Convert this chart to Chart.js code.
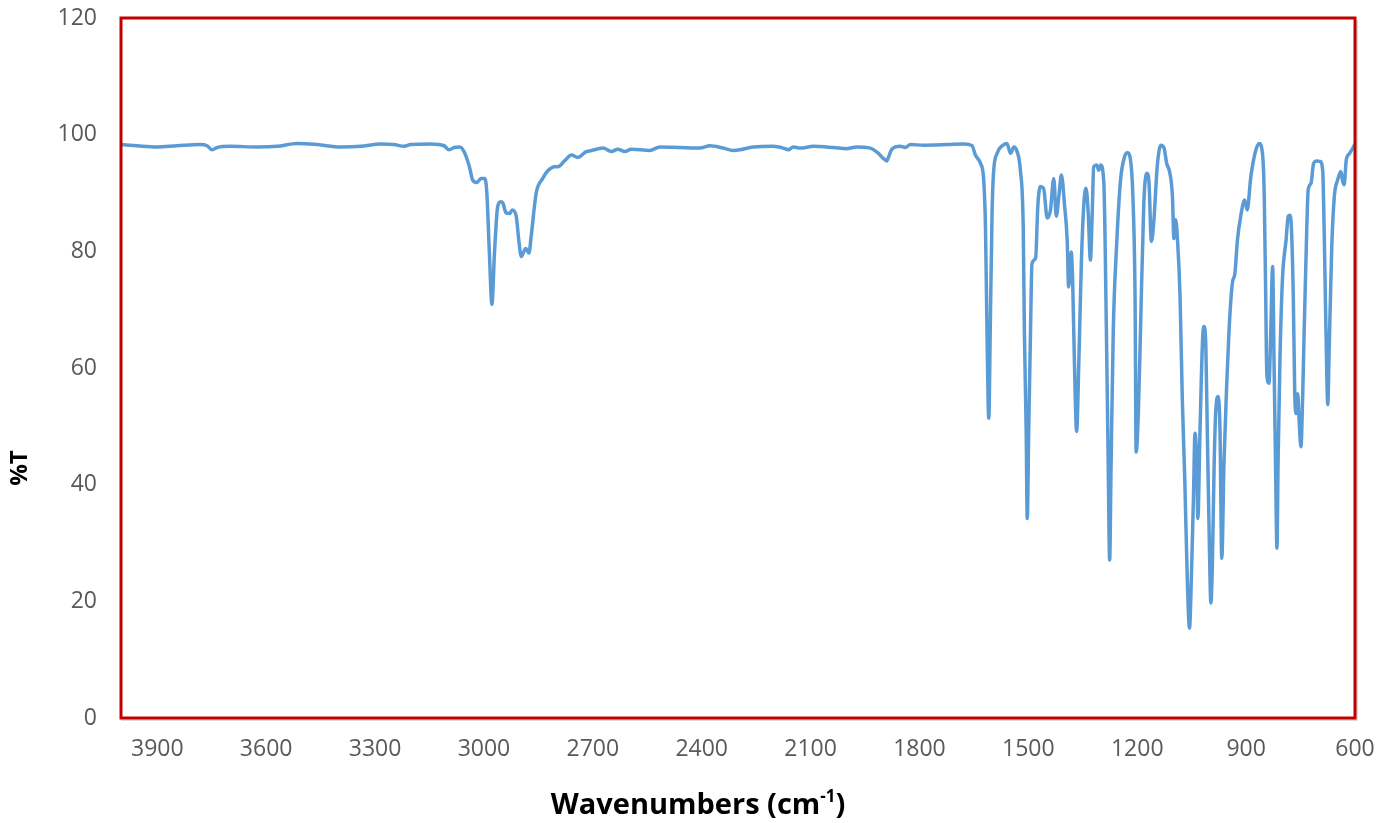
<!DOCTYPE html>
<html>
<head>
<meta charset="utf-8">
<script src="https://cdn.jsdelivr.net/npm/chart.js@4.4.1/dist/chart.umd.min.js"></script>
<style>
  html, body { margin: 0; padding: 0; background: #fff; }
  #wrap { width: 1378px; height: 823px; }
</style>
</head>
<body>
<div id="wrap"><canvas id="ir" width="1378" height="823"></canvas></div>
<script>
// IR spectrum, %T vs wavenumber
const wavenumbers = [
  4000, 3956, 3901, 3846, 3781, 3763, 3749, 3735, 3699, 3625, 3570, 3515, 3459, 3395, 3340, 3285,
  3248, 3220, 3202, 3147, 3110, 3096, 3082, 3067, 3054, 3040, 3031, 3020, 3008, 2998, 2992, 2985,
  2978, 2971, 2962, 2954, 2948, 2939, 2929, 2922, 2911, 2904, 2897, 2885, 2876, 2870, 2856, 2838,
  2824, 2805, 2796, 2778, 2759, 2741, 2718, 2709, 2672, 2649, 2631, 2612, 2594, 2543, 2515, 2460,
  2405, 2377, 2341, 2313, 2295, 2258, 2203, 2175, 2161, 2148, 2129, 2092, 2037, 2000, 1973, 1936,
  1913, 1899, 1890, 1885, 1876, 1853, 1839, 1825, 1789, 1724, 1678, 1655, 1646, 1632, 1623, 1618,
  1614, 1609, 1605, 1600, 1596, 1586, 1572, 1559, 1549, 1540, 1531, 1522, 1514, 1511, 1506, 1503,
  1499, 1494, 1490, 1480, 1474, 1467, 1458, 1448, 1439, 1430, 1423, 1416, 1409, 1400, 1393, 1389,
  1382, 1378, 1373, 1367, 1361, 1354, 1347, 1341, 1335, 1329, 1324, 1320, 1312, 1306, 1301, 1292,
  1285, 1280, 1276, 1272, 1266, 1257, 1246, 1235, 1227, 1220, 1212, 1206, 1203, 1197, 1191, 1182,
  1174, 1168, 1161, 1154, 1145, 1135, 1126, 1119, 1110, 1103, 1099, 1094, 1089, 1082, 1076, 1069,
  1062, 1056, 1051, 1045, 1041, 1036, 1033, 1027, 1020, 1016, 1011, 1007, 1002, 997, 993, 988,
  984, 977, 972, 967, 961, 953, 947, 938, 931, 924, 915, 904, 897, 887, 873, 864,
  855, 850, 846, 843, 837, 832, 827, 823, 819, 815, 812, 807, 800, 790, 784, 779,
  775, 770, 766, 762, 758, 754, 749, 744, 740, 733, 729, 721, 714, 705, 696, 689,
  685, 680, 675, 671, 664, 657, 648, 639, 634, 630, 624, 616, 606, 600
];
const transmittance = [
  98.3, 98.1, 97.9, 98.1, 98.3, 98.1, 97.4, 97.8, 98.0, 97.9, 98.0, 98.5, 98.3, 97.9, 98.0, 98.4,
  98.3, 98.0, 98.3, 98.4, 98.1, 97.4, 97.8, 97.9, 97.0, 94.5, 92.2, 91.8, 92.5, 92.5, 90.0, 79.7,
  70.9, 79.7, 87.7, 88.5, 88.3, 86.6, 86.5, 87.1, 86.0, 81.9, 79.1, 80.5, 79.7, 82.5, 90.0, 92.5,
  93.8, 94.5, 94.5, 95.5, 96.5, 96.1, 97.1, 97.2, 97.7, 97.1, 97.5, 97.1, 97.5, 97.3, 97.9, 97.8,
  97.7, 98.1, 97.7, 97.3, 97.4, 97.9, 98.0, 97.7, 97.4, 97.9, 97.7, 98.0, 97.8, 97.6, 97.9, 97.7,
  96.8, 95.9, 95.5, 96.2, 97.5, 98.0, 97.8, 98.3, 98.2, 98.3, 98.4, 98.1, 96.5, 95.1, 92.2, 83.7,
  66.5, 51.4, 66.5, 86.5, 93.4, 96.8, 98.1, 98.5, 96.8, 97.9, 97.1, 93.9, 83.7, 66.5, 49.4, 34.2,
  49.4, 66.5, 77.9, 78.8, 87.7, 91.1, 90.8, 85.7, 87.1, 92.5, 86.0, 89.4, 93.1, 87.7, 81.9, 73.9,
  79.9, 75.1, 60.8, 49.1, 60.8, 77.9, 88.2, 90.8, 86.5, 78.5, 86.5, 94.5, 94.8, 93.9, 94.8, 91.7,
  66.5, 43.7, 27.1, 43.7, 66.5, 80.8, 92.2, 96.2, 96.9, 96.2, 89.4, 72.2, 45.6, 52.2, 66.5, 88.0,
  93.4, 92.2, 81.7, 85.4, 94.5, 98.2, 97.7, 95.1, 93.4, 89.4, 82.2, 85.4, 81.9, 72.2, 55.1, 40.8,
  23.7, 15.4, 23.7, 37.9, 48.8, 43.7, 34.2, 49.4, 64.8, 67.1, 63.7, 49.4, 32.2, 19.7, 26.5, 43.7,
  52.2, 55.1, 49.4, 27.4, 43.7, 57.9, 66.5, 74.5, 76.2, 81.9, 86.0, 88.8, 87.1, 92.8, 97.4, 98.5,
  96.8, 89.4, 72.2, 59.1, 57.4, 66.5, 77.4, 60.8, 43.7, 29.1, 43.7, 60.8, 75.1, 81.9, 86.0, 86.2,
  83.7, 72.2, 55.6, 52.2, 55.6, 51.1, 46.5, 55.6, 66.5, 83.7, 90.5, 91.7, 95.1, 95.5, 95.4, 93.9,
  83.7, 66.5, 53.7, 63.7, 80.8, 89.4, 92.2, 93.7, 92.0, 91.4, 95.7, 96.7, 97.7, 98.4
];
const xTicks = [3900, 3600, 3300, 3000, 2700, 2400, 2100, 1800, 1500, 1200, 900, 600];
const yTicks = [0, 20, 40, 60, 80, 100, 120];

const points = wavenumbers.map((w, i) => ({ x: w, y: transmittance[i] }));

// red frame round the plot area
const frame = {
  id: 'frame',
  afterDatasetsDraw(chart) {
    const { ctx, chartArea: a } = chart;
    ctx.save();
    ctx.strokeStyle = '#d9d9d9';
    ctx.lineWidth = 2;
    ctx.beginPath();
    ctx.moveTo(a.right + 2, a.top + 2);
    ctx.lineTo(a.right + 2, a.bottom + 2);
    ctx.lineTo(a.left, a.bottom + 2);
    ctx.stroke();
    ctx.strokeStyle = '#c00000';
    ctx.lineWidth = 3;
    ctx.strokeRect(a.left, a.top, a.right - a.left, a.bottom - a.top);
    ctx.restore();
  }
};

// axis titles (x one has a superscript, y one sits below centre like the original)
const axisTitles = {
  id: 'axisTitles',
  afterDraw(chart) {
    const ctx = chart.ctx;
    const big = "bold 29px 'Open Sans', sans-serif";
    const small = "bold 17px 'Open Sans', sans-serif";
    ctx.save();
    ctx.fillStyle = '#000';
    ctx.textBaseline = 'alphabetic';
    ctx.font = big;
    const w1 = ctx.measureText('Wavenumbers (cm').width;
    const w3 = ctx.measureText(')').width;
    ctx.font = small;
    const w2 = ctx.measureText('-1').width;
    let x = 698 - (w1 + w2 + w3) / 2;
    const y = 814;
    ctx.font = big;
    ctx.fillText('Wavenumbers (cm', x, y);
    x += w1;
    ctx.font = small;
    ctx.fillText('-1', x, y - 12);
    x += w2;
    ctx.font = big;
    ctx.fillText(')', x, y);

    ctx.translate(20, 468);
    ctx.rotate(-Math.PI / 2);
    ctx.textAlign = 'center';
    ctx.textBaseline = 'middle';
    ctx.font = "bold 24px 'Open Sans', sans-serif";
    ctx.fillText('%T', 0, 0);
    ctx.restore();
  }
};

new Chart(document.getElementById('ir'), {
  type: 'line',
  data: {
    datasets: [{
      label: '%T',
      data: points,
      borderColor: '#5b9bd5',
      borderWidth: 3.5,
      pointRadius: 0,
      cubicInterpolationMode: 'monotone',
      fill: false
    }]
  },
  options: {
    responsive: false,
    animation: false,
    devicePixelRatio: 1,
    layout: { padding: 0 },
    plugins: {
      legend: { display: false },
      tooltip: { enabled: false }
    },
    scales: {
      x: {
        type: 'linear',
        reverse: true,
        min: 600,
        max: 4000,
        afterBuildTicks: scale => { scale.ticks = xTicks.map(v => ({ value: v })); },
        afterFit: scale => {
          scale.height = 105;
          scale.paddingLeft = 0;
          scale.paddingRight = 23;
        },
        grid: { display: false, drawTicks: false },
        border: { display: false },
        ticks: {
          color: '#595959',
          font: { family: "'Open Sans', sans-serif", size: 23 },
          padding: 18,
          maxRotation: 0,
          autoSkip: false,
          callback: v => String(v)
        }
      },
      y: {
        min: 0,
        max: 120,
        afterBuildTicks: scale => { scale.ticks = yTicks.map(v => ({ value: v })); },
        afterFit: scale => {
          scale.width = 121;
          scale.paddingTop = 18;
          scale.paddingBottom = 0;
        },
        grid: { display: false, drawTicks: false },
        border: { display: false },
        ticks: {
          color: '#595959',
          font: { family: "'Open Sans', sans-serif", size: 23 },
          padding: 24,
          callback: v => String(v)
        }
      }
    }
  },
  plugins: [frame, axisTitles]
});
</script>
</body>
</html>
